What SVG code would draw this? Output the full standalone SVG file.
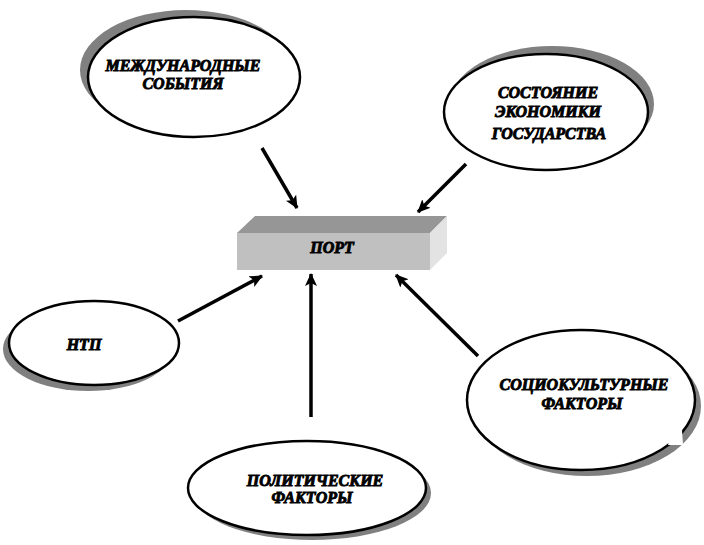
<svg xmlns="http://www.w3.org/2000/svg" width="704" height="545" viewBox="0 0 704 545">
<style>
.shadow{fill:#808080;stroke:none}
.ell{fill:#ffffff;stroke:#000000;stroke-width:2.5}
.lbl{font-family:"Liberation Serif","Times New Roman",serif;font-size:16px;font-weight:bold;font-style:italic;fill:#000000;stroke:#000000;stroke-width:0.9;text-anchor:middle}
.conn{stroke:#000000;stroke-width:3.5;fill:none;marker-end:url(#arr)}
.cut{fill:#ffffff;stroke:none}
</style>
<defs>
<marker id="arr" markerUnits="userSpaceOnUse" markerWidth="14" markerHeight="12" refX="12" refY="6" orient="auto">
<path d="M0,0 L13,6 L0,12 L3,6 Z" fill="#000000"/>
</marker>
</defs>
<rect width="704" height="545" fill="#ffffff"/>

<g id="node-mezhdunarodnye">
<ellipse class="shadow" cx="186" cy="70" rx="106" ry="60"/>
<ellipse class="ell" cx="194" cy="77" rx="106" ry="60"/>
<rect class="cut" x="78" y="106" width="18" height="22"/>
<text class="lbl" x="183" y="71">МЕЖДУНАРОДНЫЕ</text>
<text class="lbl" x="183" y="89">СОБЫТИЯ</text>
</g>

<g id="node-sostoyanie">
<ellipse class="shadow" cx="552" cy="104" rx="102" ry="58"/>
<ellipse class="ell" cx="546" cy="112" rx="102" ry="58"/>
<text class="lbl" x="548" y="98">СОСТОЯНИЕ</text>
<text class="lbl" x="548" y="117">ЭКОНОМИКИ</text>
<text class="lbl" x="549" y="139">ГОСУДАРСТВА</text>
</g>

<g id="node-port">
<polygon points="237,233 255,216 447,216 430,233" fill="#969696"/>
<polygon points="430,233 447,216 447,253 430,270" fill="#e3e3e3"/>
<rect x="237" y="233" width="193" height="37" fill="#c0c0c0"/>
<text class="lbl" x="332" y="253">ПОРТ</text>
</g>

<g id="node-ntp">
<ellipse class="shadow" cx="88" cy="349" rx="85" ry="42"/>
<ellipse class="ell" cx="94" cy="343" rx="85" ry="42"/>
<text class="lbl" x="84" y="350">НТП</text>
</g>

<g id="node-sociokult">
<ellipse class="shadow" cx="587" cy="406" rx="114" ry="70"/>
<ellipse class="ell" cx="581" cy="400" rx="114" ry="70"/>
<polygon class="cut" points="672,430 682,430 683,445 668,445" />
<text class="lbl" x="584" y="390">СОЦИОКУЛЬТУРНЫЕ</text>
<text class="lbl" x="582" y="409">ФАКТОРЫ</text>
</g>

<g id="node-politika">
<ellipse class="shadow" cx="312" cy="493" rx="119" ry="47"/>
<ellipse class="ell" cx="307" cy="488" rx="119" ry="47"/>
<text class="lbl" x="315" y="486">ПОЛИТИЧЕСКИЕ</text>
<text class="lbl" x="312" y="503">ФАКТОРЫ</text>
</g>

<g id="connectors">
<line class="conn" x1="262" y1="148" x2="297" y2="208"/>
<line class="conn" x1="466" y1="164" x2="418" y2="212"/>
<line class="conn" x1="178" y1="321" x2="262" y2="276"/>
<line class="conn" x1="311" y1="417" x2="311" y2="274"/>
<line class="conn" x1="478" y1="356" x2="396" y2="275"/>
</g>
</svg>
